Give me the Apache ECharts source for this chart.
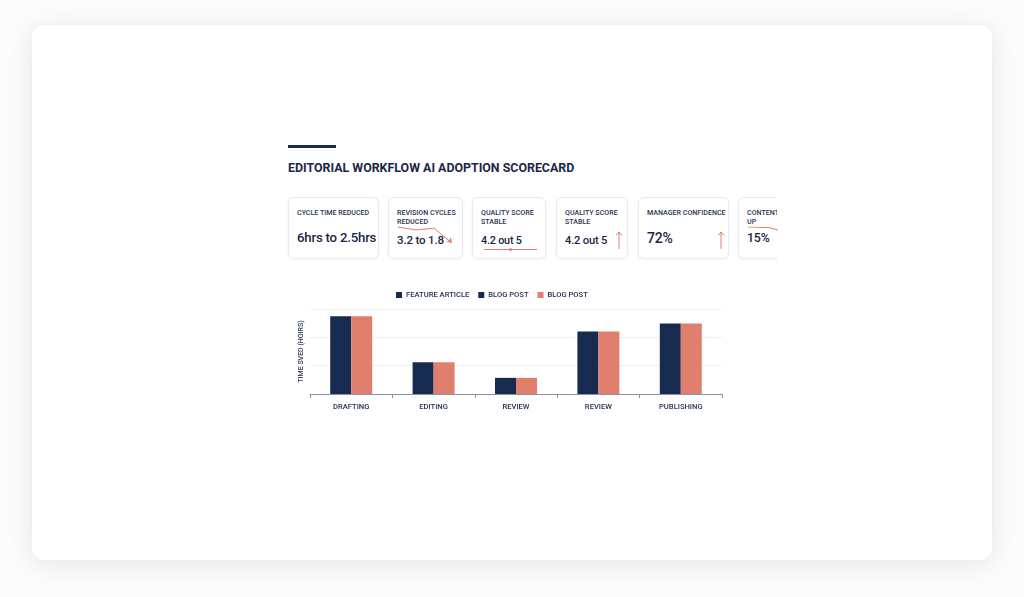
<!DOCTYPE html>
<html>
<head>
<meta charset="utf-8">
<script src="https://cdn.jsdelivr.net/npm/echarts@6/dist/echarts.min.js"></script>
<style>
  html,body{margin:0;padding:0;width:1024px;height:597px;background:#fcfcfc;overflow:hidden;font-family:Roboto,Inter,"Noto Sans",sans-serif;}
  #card{position:absolute;left:32px;top:25px;width:960px;height:535px;background:#fff;border-radius:12px;box-shadow:0 4px 28px rgba(0,0,0,0.09),0 0 2px rgba(0,0,0,0.05);}
  #bar{position:absolute;left:288px;top:145px;width:48px;height:3px;background:#1b2a4e;}
  #title{position:absolute;left:288px;top:160px;font-size:12.4px;font-weight:700;color:#1c2646;letter-spacing:0px;white-space:nowrap;line-height:16px;}
  #row{position:absolute;left:284px;top:193px;width:493px;height:72px;overflow:hidden;}
  .k{position:absolute;top:4px;height:62px;background:#fff;border:1px solid #e7eaef;border-radius:6px;box-shadow:0 1px 3px rgba(20,30,60,0.05);box-sizing:border-box;}
  .lab{position:absolute;left:8px;top:10px;font-size:7.1px;font-weight:500;color:#283453;line-height:9px;white-space:nowrap;}
  .val{position:absolute;left:8px;font-weight:500;color:#1b2646;white-space:nowrap;line-height:16px;letter-spacing:-0.2px;}
  .arr{position:absolute;}
  #chart{position:absolute;left:0;top:0;width:1024px;height:597px;}
</style>
</head>
<body>
<div id="card"></div>
<div id="bar"></div>
<div id="title">EDITORIAL WORKFLOW AI ADOPTION SCORECARD</div>
<div id="row"></div>
<div id="chart"></div>
<script>
// ---- data ----
const categories = ['DRAFTING', 'EDITING', 'REVIEW', 'REVIEW', 'PUBLISHING'];
const featureArticle = [2.74, 1.12, 0.57, 2.21, 2.49];
const blogPostNavy = [0, 0, 0, 0, 0];
const blogPost = [2.74, 1.12, 0.57, 2.21, 2.49];
const legendLabels = ['FEATURE ARTICLE', 'BLOG POST', 'BLOG POST'];
const yAxisTitle = 'TIME SVED (HOIRS)';

const kpiLabels = ['CYCLE TIME REDUCED', 'REVISION CYCLES<br>REDUCED', 'QUALITY SCORE<br>STABLE', 'QUALITY SCORE<br>STABLE', 'MANAGER CONFIDENCE', 'CONTENT<br>UP'];
const kpiValues = ['6hrs to 2.5hrs', '3.2 to 1.8', '4.2 out 5', '4.2 out 5', '72%', '15%'];
const revisionTrend = [3.2, 2.95, 3.1, 1.85];
const qualityTrend = [4.2, 4.2, 4.2];
const contentTrend = [1.0, 0.95, 0.45];

// ---- KPI cards (HTML) ----
const NAVY = '#172a50', SALMON = '#e07f6d';
const cardBoxes = [[288, 91], [388, 75], [472, 74], [556, 72], [638, 91], [738, 80]];
const valCenters = [237.5, 240, 240.5, 241, 237.5, 238];
const valSizes = [13.2, 11.6, 10.8, 11.2, 14, 12.4];
const row = document.getElementById('row');
cardBoxes.forEach((b, i) => {
  const d = document.createElement('div');
  d.className = 'k';
  d.style.left = (b[0] - 284) + 'px';
  d.style.width = b[1] + 'px';
  d.innerHTML = '<div class="lab">' + kpiLabels[i] + '</div>' +
    '<div class="val" style="top:' + (valCenters[i] - 8 - 198) + 'px;font-size:' + valSizes[i] + 'px">' + kpiValues[i] + '</div>';
  row.appendChild(d);
});
// up arrows (decorative icons)
[[619], [721]].forEach(a => {
  const s = document.createElementNS('http://www.w3.org/2000/svg', 'svg');
  s.setAttribute('width', '10'); s.setAttribute('height', '20');
  s.setAttribute('class', 'arr');
  s.style.left = (a[0] - 5 - 284) + 'px';
  s.style.top = (230 - 193) + 'px';
  s.innerHTML = '<line x1="5" y1="2" x2="5" y2="19" stroke="' + SALMON + '" stroke-width="1"/>' +
    '<polyline points="2,5.5 5,2 8,5.5" fill="none" stroke="' + SALMON + '" stroke-width="1"/>';
  row.appendChild(s);
});

// ---- chart ----
const chart = echarts.init(document.getElementById('chart'), null, {renderer: 'canvas'});
const hiddenAxis = (extra) => Object.assign({show: false, scale: false}, extra || {});
const sparkLine = {color: SALMON, width: 1};

chart.setOption({
  animation: false,
  backgroundColor: 'transparent',
  textStyle: {fontFamily: 'Roboto, Inter, sans-serif'},
  legend: {
    data: ['fa', 'bp1', 'bp2'],
    formatter: (n) => legendLabels[['fa', 'bp1', 'bp2'].indexOf(n)],
    left: 391, top: 286,
    itemWidth: 6, itemHeight: 6, itemGap: 9,
    icon: 'rect',
    textStyle: {fontSize: 7.6, color: '#26324f', fontWeight: 500, padding: [0, 0, 0, -1]}
  },
  grid: [
    {left: 310, right: 302, top: 309, bottom: 203},
    {left: 398, width: 54, top: 227, height: 16},
    {left: 484, width: 53, top: 249, height: 1},
    {left: 748, width: 29, top: 227, height: 14}
  ],
  xAxis: [
    {
      type: 'category', data: categories, gridIndex: 0,
      axisLine: {lineStyle: {color: '#8792a6', width: 1}},
      axisTick: {show: true, length: 4, lineStyle: {color: '#8792a6'}},
      axisLabel: {fontSize: 7.6, color: '#26324f', fontWeight: 500, margin: 9}
    },
    hiddenAxis({type: 'category', gridIndex: 1, boundaryGap: false, data: revisionTrend.map((v, i) => i)}),
    hiddenAxis({type: 'category', gridIndex: 2, boundaryGap: false, data: qualityTrend.map((v, i) => i)}),
    hiddenAxis({type: 'value', gridIndex: 3, min: 0, max: 1.3})
  ],
  yAxis: [
    {
      type: 'value', gridIndex: 0, min: 0, max: 3, interval: 1,
      axisLabel: {show: false}, axisLine: {show: false}, axisTick: {show: false},
      splitLine: {lineStyle: {color: '#eef0f4', width: 1}},
      name: yAxisTitle, nameLocation: 'middle', nameGap: 5, nameRotate: 90,
      nameTextStyle: {fontSize: 7, color: '#2b3756', fontWeight: 500}
    },
    hiddenAxis({type: 'value', gridIndex: 1, min: 1.85, max: 3.2}),
    hiddenAxis({type: 'value', gridIndex: 2, min: 4.1, max: 4.3}),
    hiddenAxis({type: 'value', gridIndex: 3, min: 0, max: 1})
  ],
  series: [
    {name: 'fa', type: 'bar', stack: 'navy', data: featureArticle, barWidth: 21, barGap: '0%', itemStyle: {color: NAVY}, xAxisIndex: 0, yAxisIndex: 0},
    {name: 'bp1', type: 'bar', stack: 'navy', data: blogPostNavy, barWidth: 21, barGap: '0%', itemStyle: {color: NAVY}, xAxisIndex: 0, yAxisIndex: 0},
    {name: 'bp2', type: 'bar', data: blogPost, barWidth: 21, barGap: '0%', itemStyle: {color: SALMON}, xAxisIndex: 0, yAxisIndex: 0},
    {
      type: 'line', xAxisIndex: 1, yAxisIndex: 1, lineStyle: sparkLine, clip: false,
      data: revisionTrend.map((v, i) => i === revisionTrend.length - 1
        ? {value: v, symbol: 'arrow', symbolSize: [5, 5], symbolRotate: -137, itemStyle: {color: SALMON}}
        : {value: v, symbol: 'none'})
    },
    {
      type: 'line', xAxisIndex: 2, yAxisIndex: 2, lineStyle: sparkLine, clip: false,
      data: qualityTrend.map((v, i) => i === 1
        ? {value: v, symbol: 'circle', symbolSize: 3, itemStyle: {color: SALMON}}
        : {value: v, symbol: 'none'})
    },
    {
      type: 'line', xAxisIndex: 3, yAxisIndex: 3, lineStyle: sparkLine, clip: true, symbol: 'none',
      data: contentTrend.map((v, i) => [i, v])
    }
  ]
});
</script>
</body>
</html>
